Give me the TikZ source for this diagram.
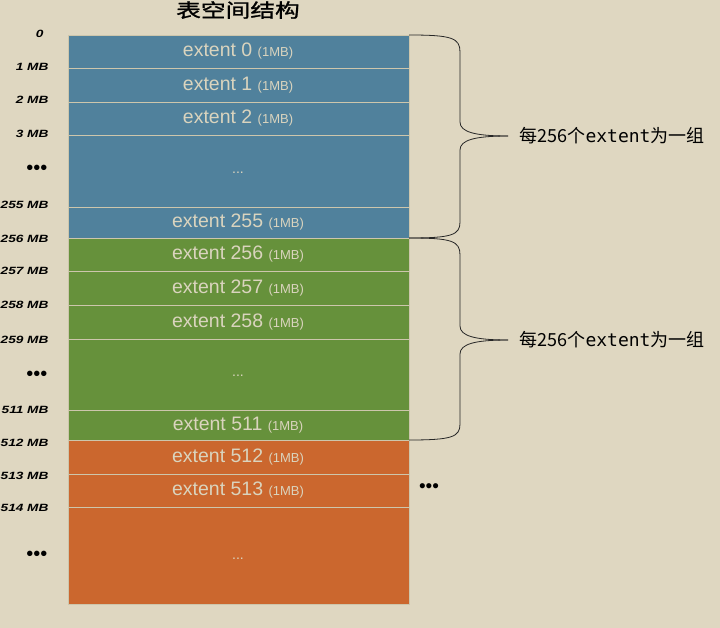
\documentclass[tikz,border=0pt]{standalone}
\usepackage{fontspec}
\setmainfont{Liberation Sans}
\newfontfamily\cjk{Noto Sans CJK SC}
\newfontfamily\cjktitle[FakeStretch=1.3,FakeBold=1.2]{Noto Sans CJK SC}
\newfontfamily\mbfont[FakeStretch=1.3]{Liberation Sans}
\newfontfamily\monofont{DejaVu Sans Mono}

\definecolor{bgcol}{RGB}{223,215,193}
\definecolor{tsblue}{RGB}{80,129,156}
\definecolor{tsgreen}{RGB}{102,145,59}
\definecolor{tsorange}{RGB}{203,103,46}
\definecolor{sepcol}{RGB}{205,198,172}
\definecolor{exttext}{RGB}{218,212,190}

\begin{document}
\begin{tikzpicture}[x=1pt,y=-1pt,
  ext/.style={text=exttext,font=\fontsize{19.5}{19.5}\selectfont},
  small/.style={text=exttext,font=\fontsize{14}{14}\selectfont},
  mb/.style={anchor=east,font=\mbfont\bfseries\itshape\fontsize{10.5}{10.5}\selectfont},
  grp/.style={anchor=west,font=\cjk\fontsize{18}{18}\selectfont},
  brace/.style={thick,black!85}]

\fill [bgcol] (0,0) rectangle (720,628);
\useasboundingbox (0,0) rectangle (720,628);

% title
\node [font=\cjktitle\fontsize{19}{19}\selectfont] (title) at (238,10) {表空间结构};

% segments
\fill [tsblue] (68,35) rectangle (409,238);
\fill [tsgreen] (68,238) rectangle (409,440);
\fill [tsorange] (68,440) rectangle (409,604);
\draw [sepcol,thin] (68,35) rectangle (409,604);
\draw [sepcol,thick](68,68) -- (409,68);
\draw [sepcol,thick](68,102) -- (409,102);
\draw [sepcol,thick](68,135) -- (409,135);
\draw [sepcol,thick](68,207) -- (409,207);
\draw [sepcol,thick](68,238) -- (409,238);
\draw [sepcol,thick](68,271) -- (409,271);
\draw [sepcol,thick](68,305) -- (409,305);
\draw [sepcol,thick](68,339) -- (409,339);
\draw [sepcol,thick](68,410) -- (409,410);
\draw [sepcol,thick](68,440) -- (409,440);
\draw [sepcol,thick](68,474) -- (409,474);
\draw [sepcol,thick](68,507) -- (409,507);

% extents
\node [ext] (e0) at (238,51.5) {extent 0 {\fontsize{13}{13}\selectfont(1MB)}};
\node [ext] (e1) at (238,85) {extent 1 {\fontsize{13}{13}\selectfont(1MB)}};
\node [ext] (e2) at (238,118.5) {extent 2 {\fontsize{13}{13}\selectfont(1MB)}};
\node [small] (d1) at (238,173) {...};
\node [ext] (e255) at (238,222.5) {extent 255 {\fontsize{13}{13}\selectfont(1MB)}};
\node [ext] (e256) at (238,254.5) {extent 256 {\fontsize{13}{13}\selectfont(1MB)}};
\node [ext] (e257) at (238,288) {extent 257 {\fontsize{13}{13}\selectfont(1MB)}};
\node [ext] (e258) at (238,322) {extent 258 {\fontsize{13}{13}\selectfont(1MB)}};
\node [small] (d2) at (238,376) {...};
\node [ext] (e511) at (238,425) {extent 511 {\fontsize{13}{13}\selectfont(1MB)}};
\node [ext] (e512) at (238,457) {extent 512 {\fontsize{13}{13}\selectfont(1MB)}};
\node [ext] (e513) at (238,490.5) {extent 513 {\fontsize{13}{13}\selectfont(1MB)}};
\node [small] (d3) at (238,559) {...};

% offsets
\node [mb] (m0) at (47,34) {0};
\node [mb] (m1) at (52,67) {1 MB};
\node [mb] (m2) at (52,100) {2 MB};
\node [mb] (m3) at (52,134) {3 MB};
\node [mb,font=\fontsize{20}{20}\selectfont] (md1) at (51,170) {•••};
\node [mb] (m255) at (52,205) {255 MB};
\node [mb] (m256) at (52,239) {256 MB};
\node [mb] (m257) at (52,271) {257 MB};
\node [mb] (m258) at (52,305) {258 MB};
\node [mb] (m259) at (52,340) {259 MB};
\node [mb,font=\fontsize{20}{20}\selectfont] (md2) at (51,376) {•••};
\node [mb] (m511) at (52,410) {511 MB};
\node [mb] (m512) at (52,443) {512 MB};
\node [mb] (m513) at (52,476) {513 MB};
\node [mb] (m514) at (52,508) {514 MB};
\node [mb,font=\fontsize{20}{20}\selectfont] (md3) at (51,556) {•••};
\node [font=\fontsize{19}{19}\selectfont] (more) at (429,488) {•••};

% groups
\draw [brace](409,35) .. controls (452,35) and (460,38) .. (460,52) -- (460,122) .. controls (460,132) and (475,136) .. (508,136);
\draw [brace](508,136) .. controls (475,136) and (460,140) .. (460,150) -- (460,222) .. controls (460,235) and (452,238) .. (409,238);
\draw [brace](409,238) .. controls (452,238) and (460,241) .. (460,255) -- (460,326) .. controls (460,336) and (475,340) .. (508,340);
\draw [brace](508,340) .. controls (475,340) and (460,344) .. (460,354) -- (460,424) .. controls (460,437) and (452,440) .. (409,440);
\node [grp] (g1) at (516,136) {每256个{\monofont extent}为一组};
\node [grp] (g2) at (516,340) {每256个{\monofont extent}为一组};
\end{tikzpicture}
\end{document}
